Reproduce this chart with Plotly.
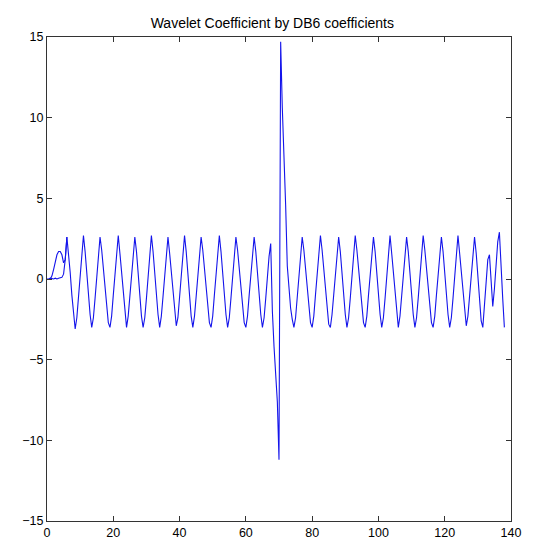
import plotly.graph_objects as go

# sample spacing of the main series (x starts at 0)
x_start = 0.0
x_step = 0.5

main_values = [
    # start, x 0 .. 5.5
    0.0, 0.0, 0.05, 0.0, 0.0, 0.05, 0.0, 0.05, 0.1, 0.1, 0.3, 1.2,
    # peak 6.0
    2.6, 1.6, 0.4, -1.0, -2.2, -3.1, -2.4, -1.2, 0.2, 1.5,
    # peak 11.0
    2.7, 1.7, 0.4, -1.0, -2.2, -3.0, -2.4, -1.2, 0.2, 1.5,
    # peak 16.0
    2.6, 1.8, 0.7, -0.6, -1.8, -2.7, -3.0, -2.3, -1.0, 0.3, 1.6,
    # peak 21.5
    2.7, 1.6, 0.4, -1.0, -2.2, -3.0, -2.3, -1.1, 0.2, 1.5,
    # peak 26.5
    2.6, 1.7, 0.4, -1.0, -2.3, -3.0, -2.4, -1.2, 0.2, 1.6,
    # peak 31.5
    2.7, 1.7, 0.3, -1.1, -2.2, -3.0, -2.3, -1.1, 0.3, 1.5,
    # peak 36.5
    2.6, 1.6, 0.4, -1.0, -2.2, -2.9, -2.4, -1.2, 0.2, 1.6,
    # peak 41.5
    2.7, 1.7, 0.4, -1.0, -2.3, -3.0, -2.3, -1.1, 0.3, 1.5,
    # peak 46.5
    2.6, 1.8, 0.7, -0.6, -1.8, -2.7, -3.0, -2.3, -1.0, 0.3, 1.6,
    # peak 52.0
    2.7, 1.7, 0.4, -1.0, -2.2, -3.0, -2.4, -1.2, 0.2, 1.5,
    # peak 57.0
    2.6, 1.8, 0.7, -0.6, -1.8, -2.7, -3.0, -2.3, -1.0, 0.3, 1.6,
    # peak 62.5
    2.6, 1.7, 0.4, -1.0, -2.2, -3.0, -2.4, -1.2, 0.2, 1.4,
    # x 67.5 .. 76.5 : the burst
    2.2, -2.0, -4.2, -6.3, -7.6, -11.2, 14.7, 10.6, 8.0, 4.6,
    0.8, -0.7, -1.8, -2.5, -3.0, -2.4, -1.2, 0.2, 1.5,
    # peak 77.0
    2.6, 1.8, 0.7, -0.6, -1.8, -2.7, -3.0, -2.3, -1.0, 0.3, 1.6,
    # peak 82.5
    2.7, 1.8, 0.6, -0.7, -1.9, -2.8, -3.0, -2.2, -1.0, 0.3, 1.6,
    # peak 88.0
    2.6, 1.7, 0.4, -1.0, -2.2, -3.0, -2.4, -1.2, 0.2, 1.5,
    # peak 93.0
    2.7, 1.8, 0.7, -0.6, -1.8, -2.7, -3.0, -2.3, -1.0, 0.3, 1.6,
    # peak 98.5
    2.6, 1.7, 0.4, -1.0, -2.2, -3.0, -2.4, -1.2, 0.2, 1.5,
    # peak 103.5
    2.7, 1.6, 0.4, -1.0, -2.3, -3.0, -2.3, -1.1, 0.3, 1.6,
    # peak 108.5
    2.6, 1.7, 0.4, -1.0, -2.2, -3.0, -2.4, -1.2, 0.2, 1.5,
    # peak 113.5
    2.7, 1.8, 0.7, -0.6, -1.8, -2.7, -3.0, -2.3, -1.0, 0.3, 1.6,
    # peak 119.0
    2.6, 1.7, 0.4, -1.0, -2.2, -3.0, -2.4, -1.2, 0.2, 1.5,
    # peak 124.0
    2.7, 1.6, 0.4, -1.0, -2.2, -2.9, -2.3, -1.1, 0.3, 1.6,
    # peak 129.0 .. end 138.0
    2.6, 1.6, 0.2, -1.3, -2.6, -3.0, -1.6, 0.0, 1.2, 1.5,
    -0.2, -1.7, -0.6, 1.0, 2.3, 2.9, 1.2, -1.2, -3.0,
]

# short overlapping segment at the very start
start_x = [1.0, 1.5, 2.0, 2.5, 3.0, 3.5, 4.0, 4.5, 5.0, 5.5, 6.0]
start_values = [0.0, 0.2, 0.6, 1.1, 1.5, 1.7, 1.7, 1.5, 1.0, 1.2, 2.6]

x_ticks = [0, 20, 40, 60, 80, 100, 120, 140]
y_ticks = [-15, -10, -5, 0, 5, 10, 15]

line_style = dict(color="rgb(20,20,235)", width=1.1)

fig = go.Figure()
fig.add_trace(go.Scatter(x0=x_start, dx=x_step, y=main_values, mode="lines",
                         line=line_style, showlegend=False))
fig.add_trace(go.Scatter(x=start_x, y=start_values, mode="lines",
                         line=line_style, showlegend=False))

axis_common = dict(showline=True, linecolor="#333333", linewidth=1, mirror="allticks",
                   ticks="inside", ticklen=5, tickcolor="#333333", showgrid=False,
                   zeroline=False, tickfont=dict(family="Liberation Sans, Arial", size=12.5, color="#000000"))

fig.update_xaxes(range=[0, 140], tickvals=x_ticks, **axis_common)
fig.update_yaxes(range=[-15, 15], tickvals=y_ticks, **axis_common)

fig.update_layout(
    width=534, height=543,
    margin=dict(l=39, r=31, t=29, b=30),
    paper_bgcolor="white", plot_bgcolor="white",
    title=dict(text="Wavelet Coefficient by DB6 coefficients", x=0.495, xanchor="center",
               y=0.972, yanchor="middle",
               font=dict(family="Liberation Sans, Arial", size=14, color="#000000")),
)

fig.write_html("out.html")
